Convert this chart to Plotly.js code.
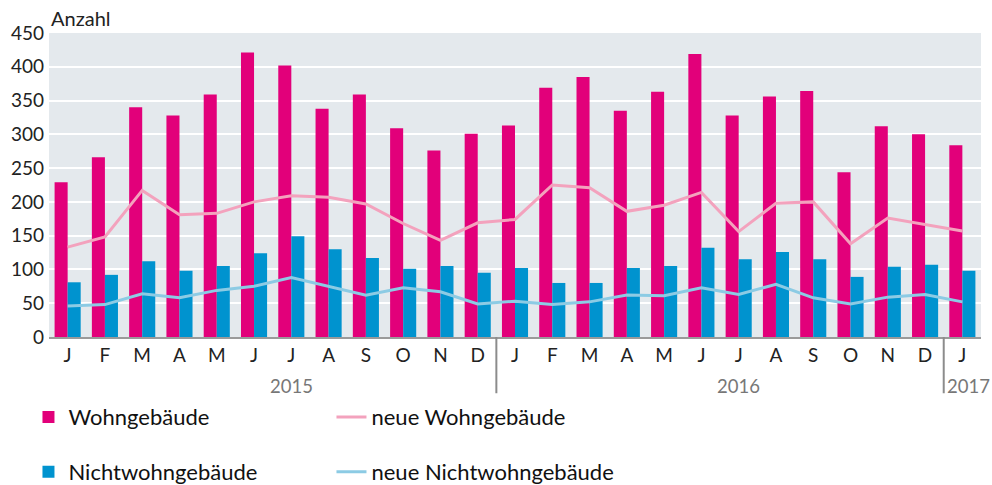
<!DOCTYPE html>
<html>
<head>
<meta charset="utf-8">
<script src="https://cdn.plot.ly/plotly-3.0.1.min.js"></script>
<style>
  html, body { margin: 0; padding: 0; background: #fff; }
  #chart { width: 992px; height: 485px; }
</style>
</head>
<body>
<div id="chart"></div>
<script>
// ---- data ----
const months = ['J','F','M','A','M','J','J','A','S','O','N','D',
                'J','F','M','A','M','J','J','A','S','O','N','D','J'];
const years  = [2015,2015,2015,2015,2015,2015,2015,2015,2015,2015,2015,2015,
                2016,2016,2016,2016,2016,2016,2016,2016,2016,2016,2016,2016,2017];
const wohngebaeude      = [229,266,340,328,359,421,402,338,359,309,276,301,
                           313,369,385,335,363,419,328,356,364,244,312,300,284];
const nichtwohngebaeude = [81,92,112,98,105,124,149,130,117,101,105,95,
                           102,80,80,102,105,132,115,126,115,89,104,107,98];
const neueWohn          = [133,148,217,181,183,200,209,207,197,168,143,169,
                           174,225,221,186,195,214,156,198,200,138,176,166,157];
const neueNichtwohn     = [46,48,64,58,69,75,88,75,62,73,67,49,
                           53,48,52,62,61,73,63,78,58,49,59,63,52];
const yTicks = [0,50,100,150,200,250,300,350,400,450];

// ---- layout helpers ----
const idx = months.map((m, i) => i);
const FONT = '"Source Sans Pro", Lato, "Open Sans", sans-serif';

const traces = [
  { type: 'bar', x: idx, y: wohngebaeude, name: 'Wohngebäude',
    marker: { color: '#e2007a' }, legend: 'legend', hoverinfo: 'y' },
  { type: 'bar', x: idx, y: nichtwohngebaeude, name: 'Nichtwohngebäude',
    marker: { color: '#0093cf' }, legend: 'legend2', hoverinfo: 'y' },
  { type: 'scatter', mode: 'lines', x: idx, y: neueWohn, name: 'neue Wohngebäude',
    line: { color: '#f3a2bd', width: 3 }, legend: 'legend', hoverinfo: 'y' },
  { type: 'scatter', mode: 'lines', x: idx, y: neueNichtwohn, name: 'neue Nichtwohngebäude',
    line: { color: '#8ccbe4', width: 3 }, legend: 'legend2', hoverinfo: 'y' }
];

// year groups: label centred over each year's months, separators between years
const annotations = [{
  text: 'Anzahl', xref: 'paper', yref: 'paper', x: 0, y: 1.05,
  xanchor: 'left', yanchor: 'middle', showarrow: false,
  font: { family: FONT, size: 20, color: '#222' }
}];
const shapes = [];
const uniqYears = [...new Set(years)];
uniqYears.forEach((yr, k) => {
  const first = years.indexOf(yr), last = years.lastIndexOf(yr);
  const isLast = k === uniqYears.length - 1;
  annotations.push({
    text: String(yr), xref: 'x', yref: 'paper',
    x: isLast ? first - 0.5 : (first + last) / 2 + 0.5, y: -0.162,
    xanchor: isLast ? 'left' : 'center', xshift: isLast ? 1 : 0,
    yanchor: 'middle', showarrow: false,
    font: { family: FONT, size: 18.5, color: '#777' }
  });
  if (k > 0) {
    shapes.push({ type: 'line', xref: 'x', yref: 'paper',
      x0: first - 0.5, x1: first - 0.5, y0: 0, y1: -0.185,
      line: { color: '#8c8c8c', width: 2 } });
  }
});

const legendBase = {
  orientation: 'h', xref: 'container', yref: 'container',
  xanchor: 'left', yanchor: 'middle',
  bgcolor: 'rgba(0,0,0,0)', borderwidth: 0,
  font: { family: FONT, size: 22, color: '#111' },
  entrywidth: 258, entrywidthmode: 'pixels', itemwidth: 30
};

const layout = {
  width: 992, height: 485,
  margin: { l: 49, r: 11, t: 33, b: 148, autoexpand: false },
  paper_bgcolor: '#ffffff', plot_bgcolor: '#e4e9ed',
  font: { family: FONT, size: 18, color: '#222' },
  barmode: 'group', bargap: 0.3, bargroupgap: 0,
  xaxis: {
    range: [-0.5, months.length - 0.5], tickmode: 'array',
    tickvals: idx, ticktext: months, ticks: '', showgrid: false,
    zeroline: false, showline: true, linecolor: '#9a9a9a', linewidth: 2,
    tickfont: { family: FONT, size: 19, color: '#222' }, fixedrange: true
  },
  yaxis: {
    range: [0, 450], tickmode: 'array', tickvals: yTicks,
    showgrid: true, gridcolor: '#ffffff', gridwidth: 2,
    zeroline: false, showline: false, ticks: '', ticklabelstandoff: 4,
    tickfont: { family: FONT, size: 19, color: '#222' }, fixedrange: true
  },
  showlegend: true,
  legend: Object.assign({}, legendBase, { x: 0.0287, y: 0.140 }),
  legend2: Object.assign({}, legendBase, { x: 0.0287, y: 0.027 }),
  annotations: annotations,
  shapes: shapes
};

Plotly.newPlot('chart', traces, layout, { displayModeBar: false, staticPlot: true });
</script>
</body>
</html>
